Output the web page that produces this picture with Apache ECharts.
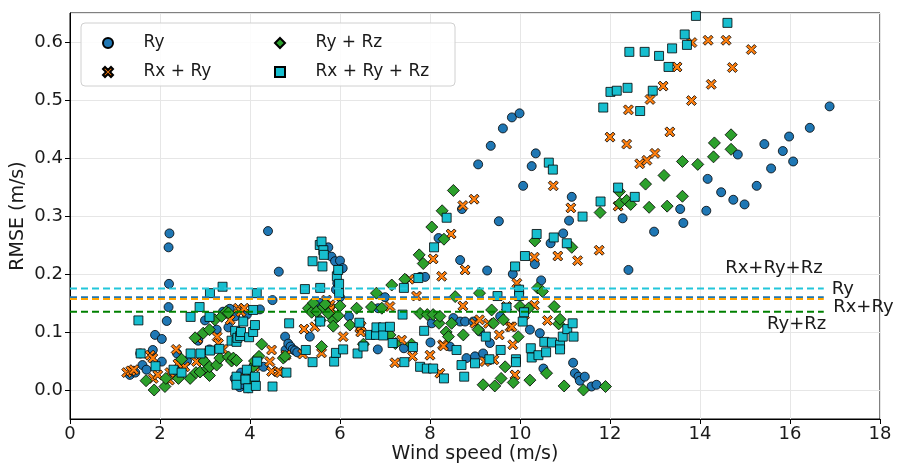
<!DOCTYPE html>
<html>
<head>
<meta charset="utf-8">
<script src="https://cdn.jsdelivr.net/npm/echarts@6/dist/echarts.min.js"></script>
<style>
  html, body { margin: 0; padding: 0; background: #fff; }
  #chart { width: 898px; height: 466px; }
</style>
</head>
<body>
<div id="chart"></div>
<script>
// scatter data, [wind speed (m/s), RMSE (m/s)]
let ry = [[1.33,0.026],[1.45,0.03],[1.56,0.063],[1.61,0.043],[1.70,0.035],[1.84,0.069],[1.89,0.095],[2.04,0.088],[2.04,0.049],[2.15,0.119],[2.19,0.143],[2.2,0.183],[2.19,0.246],[2.21,0.27],[2.3,0.03],[2.38,0.063],[2.5,0.04],[2.6,0.05],[2.85,0.085],[3.0,0.12],[3.1,0.07],[3.26,0.104],[3.4,0.135],[3.52,0.108],[3.55,0.14],[3.67,0.127],[3.66,0.02],[3.7,0.014],[3.77,0.005],[3.8,0.03],[3.85,0.01],[3.93,0.13],[3.96,0.003],[4.05,0.02],[4.1,0.01],[4.22,0.139],[4.3,0.04],[4.4,0.274],[4.5,0.155],[4.64,0.204],[4.78,0.092],[4.79,0.069],[4.85,0.08],[4.9,0.075],[4.95,0.07],[5.0,0.068],[5.05,0.065],[5.33,0.092],[5.55,0.15],[5.74,0.246],[5.81,0.23],[5.89,0.222],[6.0,0.223],[6.06,0.21],[5.96,0.204],[5.94,0.184],[5.91,0.173],[6.0,0.16],[6.2,0.127],[6.84,0.07],[6.85,0.141],[7.0,0.16],[7.42,0.072],[7.78,0.195],[7.89,0.195],[8.01,0.082],[8.04,0.115],[8.19,0.262],[8.44,0.075],[8.52,0.124],[8.67,0.118],[8.67,0.224],[8.71,0.312],[8.78,0.118],[8.81,0.055],[8.96,0.118],[9.0,0.058],[9.07,0.389],[9.11,0.101],[9.18,0.063],[9.27,0.206],[9.33,0.081],[9.35,0.421],[9.53,0.291],[9.56,0.127],[9.62,0.451],[9.82,0.47],[9.84,0.2],[9.99,0.477],[10.07,0.352],[10.22,0.104],[10.26,0.386],[10.33,0.217],[10.35,0.408],[10.44,0.098],[10.47,0.189],[10.52,0.037],[10.68,0.253],[10.96,0.27],[11.09,0.292],[11.15,0.333],[11.18,0.047],[11.22,0.029],[11.3,0.023],[11.33,0.016],[11.44,0.023],[11.59,0.006],[11.7,0.009],[12.28,0.296],[12.41,0.207],[12.98,0.273],[13.56,0.312],[13.63,0.288],[14.14,0.309],[14.17,0.364],[14.47,0.341],[14.74,0.328],[14.84,0.406],[14.99,0.32],[15.26,0.352],[15.43,0.424],[15.58,0.382],[15.84,0.412],[15.98,0.437],[16.07,0.394],[16.44,0.452],[16.88,0.489]]

let rxRy = [[1.26,0.03],[1.35,0.033],[1.42,0.035],[1.78,0.06],[1.84,0.055],[1.85,0.02],[1.95,0.026],[2.21,0.017],[2.22,0.03],[2.36,0.07],[2.4,0.045],[2.55,0.04],[2.81,0.049],[2.83,0.089],[2.95,0.06],[3.27,0.092],[3.3,0.08],[3.4,0.07],[3.56,0.121],[3.74,0.141],[3.8,0.135],[3.87,0.141],[3.89,0.02],[4.1,0.04],[4.44,0.049],[4.48,0.069],[4.48,0.032],[4.63,0.032],[4.67,0.03],[4.8,0.06],[5.17,0.062],[5.2,0.105],[5.44,0.109],[5.59,0.064],[5.7,0.155],[5.78,0.147],[5.8,0.14],[5.9,0.13],[6.07,0.092],[6.44,0.107],[6.46,0.1],[6.47,0.11],[7.11,0.144],[7.22,0.047],[7.37,0.086],[7.54,0.191],[7.61,0.058],[7.7,0.162],[8.0,0.06],[8.07,0.226],[8.22,0.029],[8.26,0.196],[8.28,0.078],[8.3,0.076],[8.47,0.269],[8.73,0.318],[8.73,0.145],[8.78,0.207],[8.98,0.329],[9.0,0.115],[9.1,0.121],[9.22,0.049],[9.3,0.115],[9.42,0.052],[9.54,0.095],[9.7,0.144],[9.78,0.109],[9.82,0.109],[9.84,0.078],[9.89,0.026],[9.93,0.184],[10.1,0.13],[10.32,0.229],[10.32,0.146],[10.61,0.12],[10.74,0.352],[10.84,0.231],[11.13,0.314],[11.28,0.223],[11.76,0.241],[12.0,0.436],[12.18,0.317],[12.37,0.424],[12.41,0.483],[12.66,0.39],[12.82,0.396],[12.89,0.501],[13.0,0.408],[13.18,0.524],[13.33,0.445],[13.49,0.557],[13.81,0.499],[13.82,0.599],[14.18,0.603],[14.25,0.527],[14.58,0.603],[14.72,0.556],[15.14,0.587]]

let ryRz = [[1.69,0.016],[1.87,0.0],[2.11,0.006],[2.13,0.02],[2.41,0.02],[2.48,0.053],[2.67,0.02],[2.78,0.09],[2.8,0.03],[2.89,0.031],[2.96,0.098],[2.98,0.05],[3.06,0.037],[3.1,0.104],[3.1,0.025],[3.1,0.04],[3.22,0.121],[3.26,0.043],[3.33,0.055],[3.37,0.127],[3.47,0.135],[3.52,0.133],[3.52,0.057],[3.59,0.05],[3.63,0.055],[3.7,0.051],[4.02,0.02],[4.07,0.04],[4.1,0.05],[4.2,0.058],[4.26,0.079],[4.74,0.055],[4.78,0.058],[5.3,0.141],[5.37,0.134],[5.41,0.15],[5.48,0.135],[5.56,0.12],[5.59,0.075],[5.63,0.143],[5.67,0.148],[5.74,0.132],[5.85,0.12],[5.85,0.11],[5.96,0.128],[6.0,0.145],[6.22,0.112],[6.37,0.141],[6.52,0.079],[6.7,0.143],[6.81,0.167],[6.93,0.141],[7.11,0.095],[7.15,0.181],[7.23,0.08],[7.44,0.191],[7.59,0.079],[7.76,0.233],[7.78,0.132],[7.85,0.218],[7.94,0.13],[8.04,0.281],[8.07,0.13],[8.2,0.115],[8.22,0.127],[8.27,0.309],[8.31,0.26],[8.36,0.1],[8.41,0.092],[8.48,0.115],[8.52,0.344],[8.56,0.161],[8.74,0.095],[9.07,0.104],[9.1,0.167],[9.18,0.009],[9.37,0.138],[9.41,0.115],[9.44,0.007],[9.58,0.02],[9.63,0.121],[9.67,0.04],[9.85,0.013],[9.96,0.092],[10.0,0.144],[10.19,0.141],[10.22,0.017],[10.33,0.257],[10.39,0.176],[10.5,0.17],[10.59,0.029],[10.76,0.144],[10.86,0.114],[10.89,0.122],[10.98,0.007],[11.15,0.246],[11.41,0.0],[11.78,0.306],[11.9,0.006],[12.21,0.342],[12.22,0.322],[12.37,0.327],[12.46,0.32],[12.79,0.355],[12.87,0.315],[13.2,0.37],[13.27,0.317],[13.61,0.334],[13.61,0.394],[13.95,0.389],[14.3,0.402],[14.32,0.426],[14.69,0.415],[14.69,0.44]]

let rxRyRz = [[1.52,0.12],[1.57,0.063],[1.9,0.041],[2.3,0.035],[2.48,0.03],[2.68,0.063],[2.68,0.126],[2.88,0.143],[2.9,0.063],[3.1,0.126],[3.11,0.167],[3.11,0.068],[3.32,0.071],[3.39,0.178],[3.59,0.085],[3.67,0.102],[3.7,0.083],[3.7,0.023],[3.7,0.009],[3.72,0.09],[3.78,0.093],[3.8,0.1],[3.85,0.118],[3.9,0.018],[3.93,0.035],[3.96,0.003],[3.98,0.091],[4.07,0.138],[4.07,0.1],[4.11,0.112],[4.11,0.023],[4.13,0.007],[4.15,0.167],[4.16,0.049],[4.5,0.006],[4.81,0.03],[4.87,0.115],[5.22,0.174],[5.24,0.069],[5.39,0.222],[5.39,0.048],[5.55,0.25],[5.56,0.176],[5.56,0.118],[5.59,0.256],[5.61,0.213],[5.63,0.241],[5.64,0.233],[5.87,0.049],[5.91,0.064],[5.93,0.196],[5.96,0.207],[5.98,0.183],[5.98,0.167],[6.07,0.07],[6.39,0.063],[6.43,0.116],[6.52,0.075],[6.67,0.095],[6.8,0.095],[6.81,0.108],[6.96,0.108],[6.96,0.094],[7.11,0.109],[7.17,0.081],[7.39,0.13],[7.42,0.176],[7.43,0.048],[7.62,0.074],[7.74,0.193],[7.78,0.04],[7.87,0.102],[7.93,0.037],[8.07,0.037],[8.09,0.246],[8.31,0.02],[8.37,0.297],[8.59,0.069],[8.7,0.043],[8.76,0.023],[9.0,0.046],[9.24,0.092],[9.32,0.053],[9.5,0.162],[9.57,0.069],[9.7,0.142],[9.89,0.213],[9.91,0.053],[9.91,0.048],[9.98,0.173],[9.98,0.162],[10.06,0.118],[10.09,0.134],[10.11,0.231],[10.24,0.072],[10.26,0.056],[10.37,0.269],[10.41,0.06],[10.54,0.083],[10.58,0.065],[10.64,0.392],[10.71,0.082],[10.73,0.38],[10.75,0.263],[10.89,0.078],[10.89,0.07],[10.95,0.092],[11.04,0.253],[11.05,0.105],[11.17,0.115],[11.19,0.092],[11.39,0.299],[11.79,0.325],[11.85,0.487],[12.01,0.514],[12.15,0.516],[12.18,0.349],[12.39,0.521],[12.43,0.583],[12.55,0.333],[12.67,0.481],[12.77,0.583],[12.95,0.516],[13.09,0.576],[13.3,0.557],[13.38,0.589],[13.66,0.613],[13.71,0.595],[13.91,0.645],[14.61,0.633]]

// mean RMSE lines
let meanNames = ['Ry', 'Rx + Ry', 'Ry + Rz', 'Rx + Ry + Rz']
let meanValues = [0.16, 0.157, 0.135, 0.175]
let meanColors = ['#1f77b4', '#ffa500', '#008000', '#22c6da']
let meanLineEnd = 16.75

// text labels next to the mean lines (left x, centre y in data units)
let annotTexts = ['Rx+Ry+Rz', 'Ry', 'Rx+Ry', 'Ry+Rz']
let annotX = [14.56, 16.93, 16.96, 15.49]
let annotY = [0.209, 0.174, 0.142, 0.114]

const FONT = 'DejaVu Sans'
// path symbols keep their aspect in the legend
const X_PATH = 'path://M-1,-0.6 L-0.6,-1 L0,-0.4 L0.6,-1 L1,-0.6 L0.4,0 L1,0.6 L0.6,1 L0,0.4 L-0.6,1 L-1,0.6 L-0.4,0 Z'
const DIAMOND_PATH = 'path://M0,-1 L1,0 L0,1 L-1,0 Z'
const SQUARE_PATH = 'path://M-1,-1 L1,-1 L1,1 L-1,1 Z'

let chart = echarts.init(document.getElementById('chart'))

function scatter (name, data, color, symbol, size) {
  return {
    name: name,
    type: 'scatter',
    data: data,
    symbol: symbol,
    symbolSize: size,
    symbolKeepAspect: true,
    itemStyle: { color: color, borderColor: '#000', borderWidth: 0.8, opacity: 1 },
    emphasis: { disabled: true },
    z: 2
  }
}

let series = [
  scatter('Ry', ry, '#1f77b4', 'circle', 9),
  scatter('Rx + Ry', rxRy, '#ff7f0e', X_PATH, 10),
  scatter('Ry + Rz', ryRz, '#2ca02c', DIAMOND_PATH, 12),
  scatter('Rx + Ry + Rz', rxRyRz, '#17becf', SQUARE_PATH, 9)
]

meanValues.forEach((v, i) => {
  series.push({
    name: meanNames[i] + ' mean',
    type: 'line',
    data: [[0, v], [meanLineEnd, v]],
    symbol: 'none',
    lineStyle: { color: meanColors[i], width: 2, type: [7, 4] },
    silent: true,
    z: 3
  })
})

let legendText = { fontFamily: FONT, fontSize: 17, color: '#1a1a1a', lineHeight: 20 }

let option = {
  animation: false,
  backgroundColor: '#fff',
  grid: {
    left: 70, right: 18, top: 13, bottom: 47,
    outerBoundsMode: 'none',
    show: true, borderColor: '#000', borderWidth: 1, backgroundColor: 'transparent'
  },
  xAxis: {
    type: 'value',
    min: 0, max: 18, interval: 2,
    name: 'Wind speed (m/s)',
    nameLocation: 'middle',
    nameGap: 26,
    nameMoveOverlap: false,
    nameTextStyle: { fontFamily: FONT, fontSize: 19, color: '#1a1a1a' },
    axisLine: { show: true, onZero: false, lineStyle: { color: '#000' } },
    axisTick: { show: true, inside: false, length: 5, lineStyle: { color: '#000' } },
    axisLabel: { fontFamily: FONT, fontSize: 18, color: '#1a1a1a', margin: 6 },
    splitLine: { show: true, lineStyle: { color: '#e6e6e6', width: 1 } }
  },
  yAxis: {
    type: 'value',
    min: -0.05, max: 0.65, splitNumber: 7,
    name: 'RMSE (m/s)',
    nameLocation: 'middle',
    nameGap: 42,
    nameMoveOverlap: false,
    nameTextStyle: { fontFamily: FONT, fontSize: 19, color: '#1a1a1a' },
    axisLine: { show: true, onZero: false, lineStyle: { color: '#000' } },
    axisTick: { show: true, inside: false, length: 5, lineStyle: { color: '#000' } },
    axisLabel: {
      fontFamily: FONT, fontSize: 18, color: '#1a1a1a', margin: 7,
      showMinLabel: false, showMaxLabel: false,
      formatter: v => v.toFixed(1)
    },
    splitLine: { show: true, lineStyle: { color: '#e6e6e6', width: 1 } }
  },
  legend: [
    {
      data: ['Ry', 'Rx + Ry'],
      orient: 'vertical', left: 102, top: 33, padding: 0,
      itemWidth: 61, itemHeight: 10, itemGap: 9,
      textStyle: legendText, selectedMode: false, z: 11
    },
    {
      data: ['Ry + Rz', 'Rx + Ry + Rz'],
      orient: 'vertical', left: 274, top: 33, padding: 0,
      itemWidth: 61, itemHeight: 10, itemGap: 9,
      textStyle: legendText, selectedMode: false, z: 11
    }
  ],
  graphic: [
    {
      type: 'rect', z: 10,
      shape: { x: 81, y: 23, width: 374, height: 63, r: 4 },
      style: { fill: 'rgba(255,255,255,0.85)', stroke: '#d0d0d0', lineWidth: 1 }
    }
  ],
  series: series
}

chart.setOption(option)

// place the mean-line labels using the chart's own scales
let labels = annotTexts.map((t, i) => {
  let p = chart.convertToPixel({ gridIndex: 0 }, [annotX[i], annotY[i]])
  return {
    type: 'text', z: 12, x: p[0], y: p[1],
    style: { text: t, fontFamily: FONT, fontSize: 18, fill: '#1a1a1a', verticalAlign: 'middle', align: 'left' }
  }
})
chart.setOption({ graphic: option.graphic.concat(labels) })
</script>
</body>
</html>
